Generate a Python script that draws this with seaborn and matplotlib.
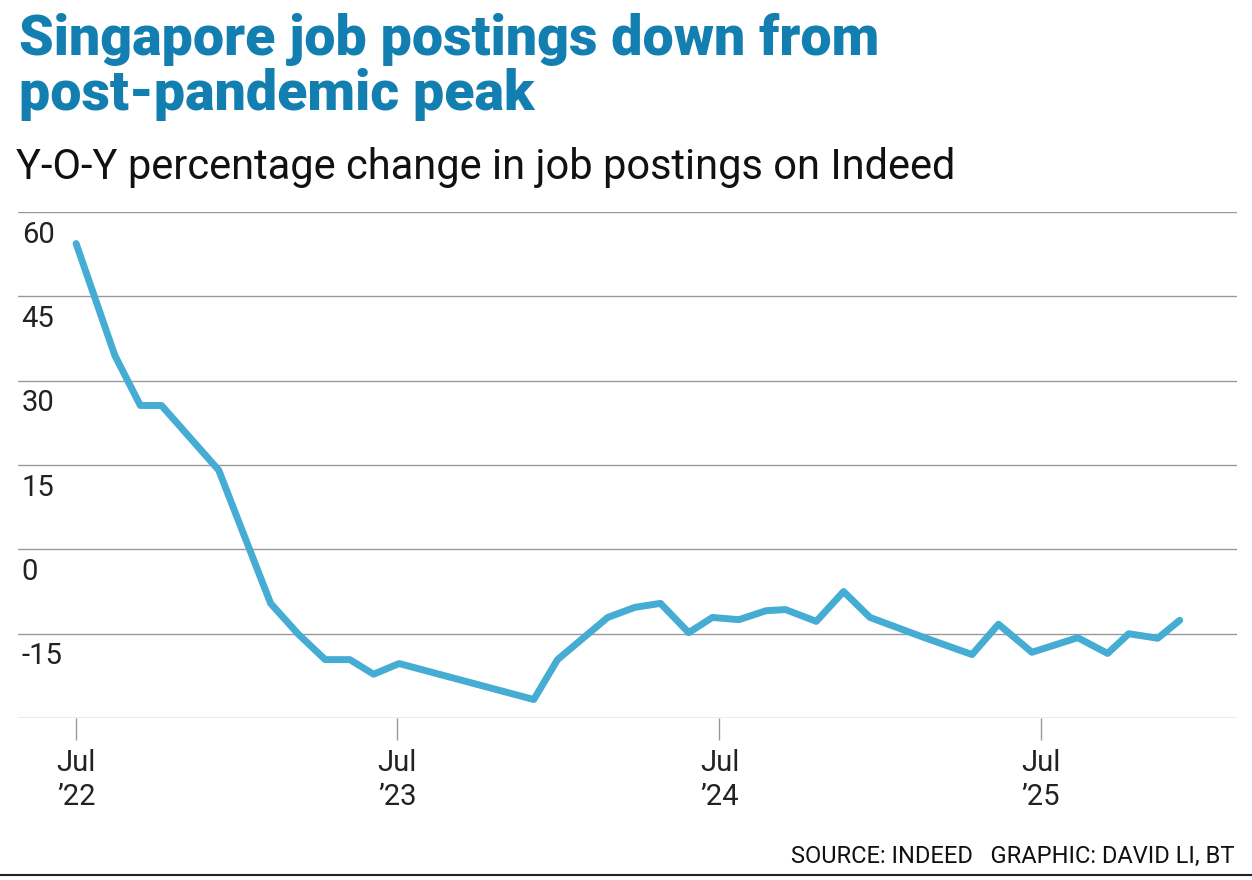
import pandas as pd
import matplotlib.pyplot as plt
import seaborn as sns

dates = ["2022-07-01", "2022-08-14", "2022-09-12", "2022-10-06", "2022-12-10",
         "2023-02-07", "2023-03-10", "2023-04-10", "2023-05-08", "2023-06-04",
         "2023-07-03", "2023-12-03", "2023-12-30", "2024-02-25", "2024-03-27",
         "2024-04-25", "2024-05-27", "2024-06-23", "2024-07-23", "2024-08-23",
         "2024-09-14", "2024-10-19", "2024-11-19", "2024-12-19", "2025-02-19",
         "2025-04-14", "2025-05-14", "2025-06-21", "2025-08-12", "2025-09-15",
         "2025-10-09", "2025-11-11", "2025-12-06"]
yoy = [54.4, 34.5, 25.6, 25.6, 14.1,
       -9.6, -15.0, -19.6, -19.6, -22.2,
       -20.3, -26.7, -19.6, -12.1, -10.3,
       -9.6, -14.8, -12.1, -12.5, -10.9,
       -10.7, -12.8, -7.5, -12.1, -15.7,
       -18.7, -13.3, -18.3, -15.7, -18.5,
       -15.0, -15.8, -12.6]
y_ticks = [-15, 0, 15, 30, 45, 60]
x_ticks = ["2022-07-01", "2023-07-01", "2024-07-01", "2025-07-01"]
x_labels = ["Jul\n\u201922", "Jul\n\u201923", "Jul\n\u201924", "Jul\n\u201925"]

df = pd.DataFrame({"date": pd.to_datetime(dates), "yoy": yoy})

sns.set_style("white")
plt.rcParams["font.family"] = ["Roboto", "DejaVu Sans"]

fig = plt.figure(figsize=(12.52, 8.8), dpi=100)
ax = fig.add_axes([0.0144, 0.184, 0.9736, 0.575])
sns.lineplot(data=df, x="date", y="yoy", ax=ax, color="#45acd3", linewidth=5)

ax.set_ylim(-30, 60)
ax.set_xlim(pd.Timestamp("2022-04-26"), pd.Timestamp("2026-02-09"))
for v in [-30, -15, 0, 15, 30, 45, 60]:
    ax.axhline(v, color="#999999", linewidth=1, zorder=0)
for v in y_ticks:
    ax.text(0.003, v - 1.5, str(v), transform=ax.get_yaxis_transform(),
            fontsize=21, color="#222222", ha="left", va="top")
ax.set_yticks([])
ax.set_xticks(pd.to_datetime(x_ticks))
ax.set_xticklabels(x_labels, fontsize=21, color="#222222", linespacing=1.3)
ax.tick_params(axis="x", bottom=True, length=16, width=1, color="#999999", pad=6)
for s in ax.spines.values():
    s.set_visible(False)
ax.set_xlabel("")
ax.set_ylabel("")

fig.text(0.015, 0.985, "Singapore job postings down from\npost-pandemic peak",
         fontsize=40, fontweight="heavy", color="#137fb0", ha="left", va="top",
         linespacing=1.05)
fig.text(0.013, 0.786, "Y-O-Y percentage change in job postings on Indeed",
         fontsize=30, color="#111111", ha="left", va="bottom")
fig.text(0.986, 0.014, "SOURCE: INDEED   GRAPHIC: DAVID LI, BT",
         fontsize=17, color="#111111", ha="right", va="bottom")
fig.add_artist(plt.Line2D([0, 1], [0.006, 0.006], color="#222222", linewidth=1.5))

fig.savefig("out.png", dpi=100)
